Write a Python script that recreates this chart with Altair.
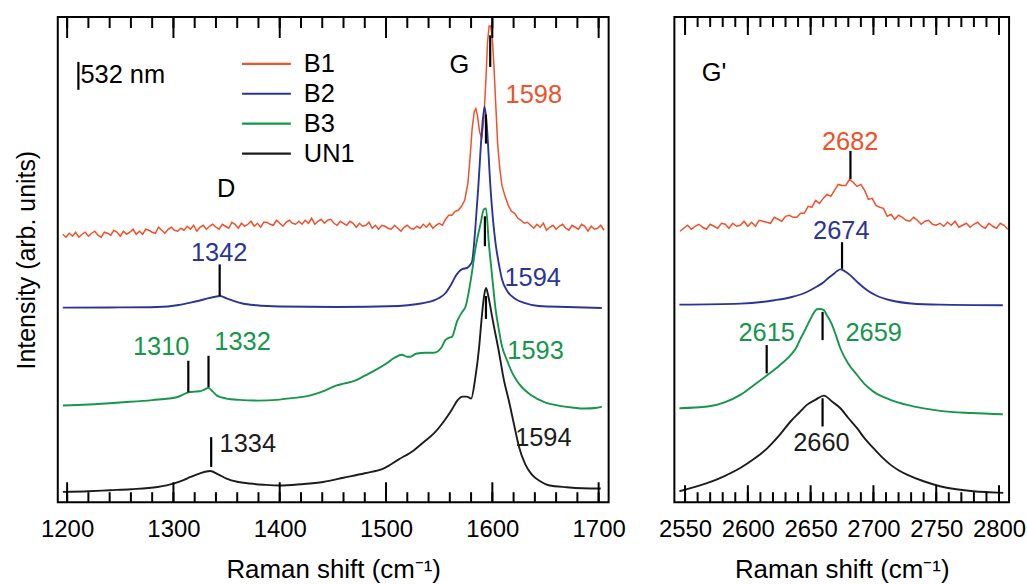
import altair as alt
import pandas as pd

FONT = "Liberation Sans"
SERIES = ["B1", "B2", "B3", "UN1", "note"]
PALETTE = ["#f0502a", "#2b3596", "#15964a", "#1c1c1c", "#000000"]

LEFT_DOMAIN = [1191.2, 1709.4]
RIGHT_DOMAIN = [2541.5, 2808.0]
Y_DOMAIN = [0, 487]
LEFT_W, RIGHT_W, H = 553, 336, 487

left_major = list(range(1200, 1701, 100))
left_minor = list(range(1200, 1701, 20))
right_major = list(range(2550, 2801, 50))
right_minor = list(range(2550, 2801, 10))

# ---------------- left panel (D and G bands) ----------------
b1_l_x = [1196, 1199, 1202, 1205, 1208, 1211, 1214, 1217, 1220, 1223, 1226, 1229, 1232, 1235,
          1238, 1241, 1244, 1247, 1250, 1253, 1256, 1259, 1262, 1265, 1268, 1271, 1274, 1277,
          1280, 1283, 1286, 1289, 1292, 1295, 1298, 1301, 1304, 1307, 1310, 1313, 1316, 1319,
          1322, 1325, 1328, 1331, 1334, 1337, 1340, 1343, 1346, 1349, 1352, 1355, 1358, 1361,
          1364, 1367, 1370, 1373, 1376, 1379, 1382, 1385, 1388, 1391, 1394, 1397, 1400, 1403,
          1406, 1409, 1412, 1415, 1418, 1421, 1424, 1427, 1430, 1433, 1436, 1439, 1442, 1445,
          1448, 1451, 1454, 1457, 1460, 1463, 1466, 1469, 1472, 1475, 1478, 1481, 1484, 1487,
          1490, 1493, 1496, 1499, 1502, 1505, 1508, 1511, 1514, 1517, 1520, 1523, 1526, 1529,
          1532, 1535, 1538, 1541, 1544, 1547, 1550, 1553, 1556, 1559,
          1562, 1565, 1568, 1571, 1574, 1577, 1579, 1581, 1583, 1584.5, 1586, 1588, 1590, 1592,
          1594, 1595.5, 1597, 1598.5, 1600, 1601.5, 1603, 1605, 1607, 1609, 1612, 1615, 1618,
          1621, 1624, 1627, 1630, 1633,
          1636, 1639, 1642, 1645, 1648, 1651, 1654, 1657, 1660, 1663, 1666, 1669, 1672, 1675,
          1678, 1681, 1684, 1687, 1690, 1693, 1696, 1699, 1702, 1705]
b1_l_y = [269, 266, 270, 267, 271, 266, 269, 271, 267, 270, 272, 268, 266, 271,
          270, 268, 273, 271, 267, 272, 269, 271, 274, 269, 272, 269, 274, 273,
          271, 270, 276, 273, 270, 274, 276, 273, 272, 275, 273, 277, 274, 278,
          272, 276, 278, 274, 277, 279, 276, 274, 279, 277, 275, 281, 279, 275,
          280, 277, 279, 282, 277, 280, 276, 281, 281, 279, 278, 283, 280, 277,
          281, 283, 280, 279, 282, 279, 283, 280, 285, 279, 282, 284, 280, 283,
          284, 280, 278, 282, 280, 278, 282, 280, 276, 280, 277, 278, 281, 275,
          278, 274, 278, 277, 275, 274, 278, 275, 272, 276, 278, 275, 274, 277,
          275, 279, 276, 280, 275, 278, 280, 278, 284, 288,
          288, 292, 293, 297, 303, 320, 345, 375, 392, 395, 388, 372, 365, 385,
          425, 462, 478, 478, 465, 438, 404, 360, 335, 318, 307, 298, 292,
          290, 285, 283, 280, 281,
          278, 275, 279, 276, 280, 273, 276, 278, 274, 277, 279, 275, 273, 278,
          276, 274, 279, 277, 272, 277, 274, 275, 278, 273]

b2_l_x = [1196, 1240, 1285, 1305, 1316, 1325, 1331.5, 1338, 1344, 1350, 1356.5, 1365, 1378,
          1400, 1453, 1512, 1530, 1543.6, 1550, 1556, 1561, 1565.5, 1569, 1571.7, 1576.4, 1579,
          1581, 1584, 1587, 1590, 1592.7, 1595, 1598, 1600.5, 1603, 1606, 1609, 1614, 1621.7,
          1630, 1643.6, 1670, 1703]
b2_l_y = [195.3, 195.5, 196, 198, 200.3, 202.5, 204.3, 206, 207, 204.5, 202, 199.5, 197.7,
          196.5, 196, 197, 199, 202, 205, 210, 218, 227, 232, 234, 235.3, 238,
          242, 275, 320, 370, 397, 375, 320, 285, 260, 240, 224, 212, 204,
          200, 197, 196, 195]

b3_l_x = [1196, 1220, 1253, 1280, 1303, 1309, 1314, 1320, 1325, 1329, 1333, 1337, 1341, 1350,
          1362, 1380, 1397, 1412, 1428, 1440, 1453, 1460, 1471, 1480, 1489, 1500, 1508, 1515,
          1520, 1523, 1528, 1537, 1545, 1552, 1556, 1559, 1562, 1567, 1571, 1575, 1580, 1584,
          1589, 1592, 1594, 1596.7, 1600, 1603, 1606, 1609, 1614, 1618.6, 1625, 1637, 1650,
          1662, 1675, 1687, 1697, 1703]
b3_l_y = [97, 98, 100.3, 102.5, 105.3, 108, 110.3, 111, 111.3, 113, 114.7, 111, 107, 104,
          102.7, 102, 102.7, 104.5, 107, 111, 117, 119, 122, 127, 132, 139, 145, 148,
          146, 146, 149, 150, 150, 155, 163, 165, 166, 182, 190, 197, 225, 254,
          280, 294, 295, 260, 225, 194, 174, 157, 142, 130, 119, 107, 100,
          97, 95, 94, 94.5, 96]

un1_l_x = [1196, 1220, 1240, 1260, 1285, 1300, 1310, 1316, 1325, 1334.6, 1342, 1350, 1360,
           1372, 1385, 1400, 1420, 1441, 1460, 1480, 1498, 1512, 1526, 1535, 1545, 1555, 1562,
           1567, 1572, 1576, 1580, 1584, 1587.5, 1590, 1592, 1594, 1596, 1598, 1600, 1606,
           1611, 1615.5, 1620, 1625, 1631, 1637, 1645, 1653, 1670, 1685, 1702]
un1_l_y = [10.3, 11, 12, 13, 15.3, 18.7, 22.5, 25.3, 29, 31.3, 28, 23.7, 20.5,
           18.7, 17.5, 16.7, 18, 20.3, 24.5, 29, 34, 43, 52, 60, 69, 82, 93,
           102, 106, 106, 104, 125, 155, 185, 205, 215, 208, 197, 185, 152,
           122, 102, 80, 56, 38, 28, 21, 17, 15, 14, 13.7]

# peak markers (position, bottom, top) and labels for the left panel
left_mark_x = [1598, 1594, 1593, 1594, 1343.5, 1314, 1333, 1335.5, 1210.6]
left_mark_lo = [437, 360, 257, 184, 207, 110.3, 115.3, 35.3, 414]
left_mark_hi = [468.7, 389, 287, 207, 238.7, 142, 147, 65.3, 442]

left_lab_text = ["1598", "1342", "1594", "1310", "1332", "1593", "1334", "1594", "G", "D"]
left_lab_x = [1639, 1343, 1638, 1288.5, 1365, 1640.7, 1370, 1648, 1569, 1349.5]
left_lab_y = [408.7, 250.3, 225, 156, 161, 152, 58, 64, 439, 314]
left_lab_series = ["B1", "B2", "B2", "B3", "B3", "B3", "UN1", "UN1", "note", "note"]

laser_text = ["532 nm"]
laser_x = [1212.5]
laser_y = [429]

legend_rows_y = [440, 410, 380, 350]

# ---------------- right panel (G' band) ----------------
b1_r_x = [2546, 2549, 2552, 2555, 2558, 2561, 2564, 2567, 2570, 2573, 2576, 2579, 2582, 2585,
          2588, 2591, 2594, 2597, 2600, 2603, 2606, 2609, 2612, 2615, 2618, 2621, 2624, 2627,
          2630, 2633, 2636, 2639, 2642, 2645, 2648, 2651, 2654, 2657, 2660, 2663, 2666, 2669,
          2672, 2675, 2678, 2681, 2684, 2687, 2690, 2693, 2696, 2699, 2702, 2705, 2708, 2711,
          2714, 2717, 2720, 2723, 2726, 2729, 2732, 2735, 2738, 2741, 2744, 2747, 2750, 2753,
          2756, 2759, 2762, 2765, 2768, 2771, 2774, 2777, 2780, 2783, 2786, 2789, 2792, 2795,
          2798, 2801, 2804, 2807]
b1_r_y = [272, 275, 278, 274, 277, 279, 276, 274, 279, 277, 275, 280, 279, 275,
          280, 277, 278, 282, 277, 281, 277, 283, 282, 281, 280, 286, 284, 282,
          287, 288, 286, 286, 290, 290, 297, 296, 303, 300, 305, 309, 307, 313,
          319, 318, 318, 324, 321, 317, 319, 313, 304, 305, 298, 296, 295, 287,
          289, 284, 288, 286, 283, 282, 286, 283, 279, 282, 283, 279, 278, 280,
          277, 281, 278, 282, 276, 278, 280, 276, 279, 281, 277, 275, 280, 277,
          275, 280, 278, 274]

b2_r_x = [2545.5, 2594, 2621, 2635, 2647, 2655, 2660.6, 2665, 2668.5, 2671, 2673.7, 2677,
          2681.7, 2688, 2695, 2703, 2713.5, 2730, 2753, 2803]
b2_r_y = [198.3, 199.3, 202.7, 206, 211, 216.5, 221, 226, 229.3, 232, 233.7, 232,
          227.7, 220, 212.7, 207, 202.7, 199.5, 198.3, 197.7]

b3_r_x = [2545.5, 2568, 2582, 2594, 2605, 2615.6, 2625, 2634, 2638, 2642, 2646, 2650, 2653,
          2655, 2658, 2660.6, 2663, 2666, 2670, 2673.7, 2680, 2687, 2693, 2700, 2713, 2726.7,
          2740, 2753, 2778, 2803]
b3_r_y = [94.3, 96, 100.5, 107.7, 117.7, 127.7, 137, 147.7, 154, 164.3, 174, 184.3, 191,
          193.7, 194, 192.7, 187.5, 181, 168, 154.3, 139, 127.7, 118.5, 111, 103, 97.7,
          94.2, 91.7, 89.5, 88.3]

un1_r_x = [2545.5, 2568, 2581, 2594, 2605, 2615.6, 2625, 2634, 2641, 2647, 2654, 2660.6, 2667,
           2673.7, 2680, 2687, 2693, 2700, 2707, 2713.5, 2720, 2726.7, 2740, 2753, 2766,
           2779.6, 2792, 2803.4]
un1_r_y = [11, 19.3, 26, 34.3, 43.5, 54.3, 67, 81, 90, 97.7, 103, 107, 101,
           94.3, 84.5, 74.3, 64, 54.3, 45, 37.7, 32, 27.7, 21, 16, 13,
           11, 10, 9.3]

right_mark_x = [2681.7, 2675, 2659.5, 2615, 2659.5]
right_mark_lo = [324.3, 234.3, 162.7, 129.3, 76]
right_mark_hi = [352.7, 261, 191, 157.7, 104.3]

right_lab_text = ["2682", "2674", "2615", "2659", "2660", "G'"]
right_lab_x = [2681.5, 2674.4, 2615, 2700.2, 2658.6, 2573]
right_lab_y = [362, 272, 170, 170, 59.3, 431]
right_lab_series = ["B1", "B2", "B3", "B3", "UN1", "note"]


def spectra(parts):
    rows = []
    for name, xs, ys in parts:
        for i, (x, y) in enumerate(zip(xs, ys)):
            rows.append({"x": x, "y": y, "series": name, "i": i})
    return pd.DataFrame(rows)


color = alt.Color("series:N", scale=alt.Scale(domain=SERIES, range=PALETTE), legend=None)


def panel(domain, width, major, minor, major_len, minor_len, top_major_len, top_minor_len,
          noisy, smooth, mk_x, mk_lo, mk_hi, lab_text, lab_x, lab_y, lab_series, left=False):
    xaxis = alt.Axis(values=major, format="d", ticks=False, domain=False, grid=False,
                     labelFontSize=24, labelPadding=15, labelFlush=False, labelOverlap=False,
                     title="Raman shift (cm\u207b\u00b9)", titleFontSize=26, titlePadding=16,
                     titleFontWeight="normal")
    if left:
        yaxis = alt.Axis(title="Intensity (arb. units)", labels=False, ticks=False,
                         domain=False, grid=False, titleFontSize=25, titlePadding=18,
                         titleFontWeight="normal")
    else:
        yaxis = None
    X = alt.X("x:Q", scale=alt.Scale(domain=domain, nice=False, zero=False), axis=xaxis)
    Y = alt.Y("y:Q", scale=alt.Scale(domain=Y_DOMAIN, nice=False, zero=False), axis=yaxis)

    layers = []
    layers.append(alt.Chart(spectra(noisy)).mark_line(strokeWidth=1.5, interpolate="linear")
                  .encode(x=X, y=Y, color=color, detail="series:N", order="i:Q"))
    layers.append(alt.Chart(spectra(smooth)).mark_line(strokeWidth=1.9, interpolate="monotone")
                  .encode(x=X, y=Y, color=color, detail="series:N", order="i:Q"))

    marks = pd.DataFrame({"x": mk_x, "y": mk_lo, "y2": mk_hi})
    layers.append(alt.Chart(marks).mark_rule(strokeWidth=2.2, color="black")
                  .encode(x=X, y=Y, y2="y2:Q"))

    labels = pd.DataFrame({"x": lab_x, "y": lab_y, "label": lab_text, "series": lab_series})
    layers.append(alt.Chart(labels).mark_text(font=FONT, fontSize=25.5, align="center",
                                              baseline="middle")
                  .encode(x=X, y=Y, text="label:N", color=color))

    ticks_major = pd.DataFrame({"x": major})
    ticks_minor = pd.DataFrame({"x": minor})
    for df, ln, tln in ((ticks_major, major_len, top_major_len),
                        (ticks_minor, minor_len, top_minor_len)):
        layers.append(alt.Chart(df).mark_rule(strokeWidth=2, color="black")
                      .encode(x=X, y=alt.value(0), y2=alt.value(tln)))
        layers.append(alt.Chart(df).mark_rule(strokeWidth=2, color="black")
                      .encode(x=X, y=alt.value(H), y2=alt.value(H - ln)))

    if left:
        laser = pd.DataFrame({"x": laser_x, "y": laser_y, "label": laser_text,
                              "series": ["note"]})
        layers.append(alt.Chart(laser).mark_text(font=FONT, fontSize=25.5, align="left",
                                                 baseline="middle")
                      .encode(x=X, y=Y, text="label:N", color=color))
        leg = pd.DataFrame({"series": SERIES[:4], "y": legend_rows_y})
        layers.append(alt.Chart(leg).mark_rule(strokeWidth=2.2)
                      .encode(x=alt.value(185), x2=alt.value(234), y=Y, color=color))
        layers.append(alt.Chart(leg).mark_text(font=FONT, fontSize=25.5, align="left",
                                               baseline="middle")
                      .encode(x=alt.value(247), y=Y, text="series:N",
                              color=alt.value("black")))

    return alt.layer(*layers).properties(width=width, height=H)


left_chart = panel(LEFT_DOMAIN, LEFT_W, left_major, left_minor, 20, 10, 21, 11,
                   [("B1", b1_l_x, b1_l_y)],
                   [("B2", b2_l_x, b2_l_y), ("B3", b3_l_x, b3_l_y), ("UN1", un1_l_x, un1_l_y)],
                   left_mark_x, left_mark_lo, left_mark_hi,
                   left_lab_text, left_lab_x, left_lab_y, left_lab_series, left=True)

right_chart = panel(RIGHT_DOMAIN, RIGHT_W, right_major, right_minor, 17, 10, 18, 10,
                    [("B1", b1_r_x, b1_r_y)],
                    [("B2", b2_r_x, b2_r_y), ("B3", b3_r_x, b3_r_y), ("UN1", un1_r_x, un1_r_y)],
                    right_mark_x, right_mark_lo, right_mark_hi,
                    right_lab_text, right_lab_x, right_lab_y, right_lab_series)

chart = (
    alt.hconcat(left_chart, right_chart, spacing=66, bounds="flush")
    .properties(padding={"left": 14, "top": 14, "right": 0, "bottom": 0}, background="white")
    .configure_view(stroke="black", strokeWidth=2)
    .configure_axis(labelFont=FONT, titleFont=FONT, labelColor="black", titleColor="black")
)

chart.save("out.html", embed_options={"renderer": "svg", "actions": False})
